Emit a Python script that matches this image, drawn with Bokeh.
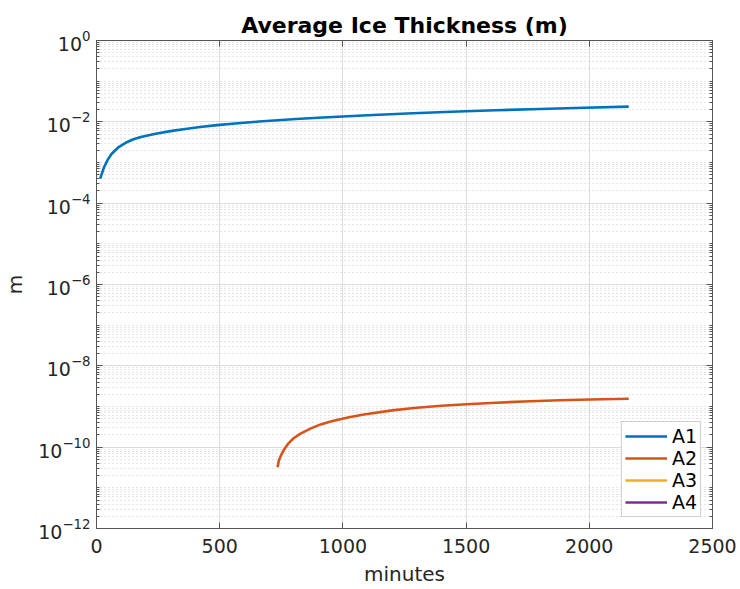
from bokeh.plotting import figure
from bokeh.models import (FixedTicker, LogAxis, LinearAxis, LogTickFormatter,
                          CustomJSTickFormatter, Legend, LegendItem,
                          ColumnDataSource)
from bokeh.embed import file_html
from bokeh.resources import INLINE

# Average ice thickness (m) per region, sampled over time (minutes)
t_a1 = [15, 30, 45, 60, 90, 120, 150, 180, 240, 300, 360, 420, 480, 540,
        600, 660, 720, 810, 900, 1080, 1260, 1440, 1620, 1800, 1980, 2160]
a1 = [4.0e-4, 7.5e-4, 1.15e-3, 1.6e-3, 2.4e-3, 3.1e-3, 3.72e-3, 4.22e-3,
      5.09e-3, 5.9e-3, 6.68e-3, 7.45e-3, 8.18e-3, 8.87e-3, 9.53e-3,
      1.016e-2, 1.079e-2, 1.17e-2, 1.259e-2, 1.435e-2, 1.607e-2, 1.77e-2,
      1.923e-2, 2.07e-2, 2.218e-2, 2.366e-2]

t_a2 = [735, 740, 750, 760, 780, 800, 828, 870, 910, 950, 1020, 1085, 1200,
        1288, 1400, 1502, 1620, 1761, 1880, 2003, 2160]
a2 = [3.2e-11, 4.7e-11, 6.5e-11, 8.5e-11, 1.26e-10, 1.66e-10, 2.15e-10,
      2.9e-10, 3.63e-10, 4.27e-10, 5.37e-10, 6.38e-10, 8.04e-10, 9.16e-10,
      1.04e-9, 1.14e-9, 1.24e-9, 1.35e-9, 1.42e-9, 1.49e-9, 1.55e-9]

t_a3 = [15, 2160]
a3 = [0.0, 0.0]
t_a4 = [15, 2160]
a4 = [0.0, 0.0]

names = ["A1", "A2", "A3", "A4"]
colors = ["#0072BD", "#D95319", "#EDB120", "#7E2F8E"]

y_major = [10.0 ** e for e in range(-12, 1, 2)]
y_minor = [k * 10.0 ** e for e in range(-12, 0) for k in range(1, 10)] + [1.0]
x_major = [0, 500, 1000, 1500, 2000, 2500]

FONT = "DejaVu Sans"
TXT = "#262626"
AX = "#555555"

p = figure(frame_width=616, frame_height=488, y_axis_type="log",
           x_range=(0, 2500), y_range=(1e-12, 1.0),
           output_backend="svg", toolbar_location=None,
           min_border_left=96, min_border_right=28,
           min_border_top=40, min_border_bottom=61,
           background_fill_color="white", border_fill_color="white")

p.title.text = "Average Ice Thickness (m)"
p.title.align = "center"
p.title.text_font = FONT
p.title.text_font_size = "22px"
p.title.text_font_style = "bold"
p.title.text_color = "black"
p.title.standoff = 6

p.outline_line_color = AX
p.outline_line_width = 1

yticker = FixedTicker(ticks=y_major, minor_ticks=y_minor)
xticker = FixedTicker(ticks=x_major, minor_ticks=[])

p.yaxis.ticker = yticker
p.yaxis.formatter = LogTickFormatter()
p.xaxis.ticker = xticker

for ax in (p.xaxis[0], p.yaxis[0]):
    ax.axis_line_color = AX
    ax.major_tick_line_color = AX
    ax.minor_tick_line_color = AX
    ax.major_tick_in = 6
    ax.major_tick_out = 0
    ax.minor_tick_in = 3
    ax.minor_tick_out = 0
    ax.major_label_text_font = FONT
    ax.major_label_text_font_size = "19px"
    ax.major_label_text_color = TXT
    ax.axis_label_text_font = FONT
    ax.axis_label_text_font_size = "20px"
    ax.axis_label_text_font_style = "normal"
    ax.axis_label_text_color = TXT

p.xaxis.axis_label = "minutes"
p.yaxis.axis_label = "m"
p.xaxis.minor_tick_line_color = None
p.xaxis.major_label_standoff = 10
p.xaxis.axis_label_standoff = 6
p.yaxis.major_label_standoff = 6
p.yaxis.axis_label_standoff = 8

# box ticks on the top and right edges, without labels
blank = CustomJSTickFormatter(code="return ''")
top = LinearAxis(ticker=xticker, formatter=blank,
                 axis_line_color=AX, major_tick_line_color=AX,
                 major_tick_in=6, major_tick_out=0, minor_tick_line_color=None,
                 major_label_standoff=0)
right = LogAxis(ticker=yticker, formatter=blank,
                axis_line_color=AX, major_tick_line_color=AX,
                minor_tick_line_color=AX, major_tick_in=6, major_tick_out=0,
                minor_tick_in=3, minor_tick_out=0, major_label_standoff=0)
p.add_layout(top, "above")
p.add_layout(right, "right")

# grids
p.xgrid.ticker = xticker
p.ygrid.ticker = yticker
p.xgrid.grid_line_color = "#dcdcdc"
p.ygrid.grid_line_color = "#dcdcdc"
p.ygrid.minor_grid_line_color = "#cccccc"
p.ygrid.minor_grid_line_dash = "1 3"
p.ygrid.minor_grid_line_width = 1

series = [(t_a1, a1), (t_a2, a2), (t_a3, a3), (t_a4, a4)]
items = []
for name, color, (tt, yy) in zip(names, colors, series):
    # zero thickness has no place on a log axis: keep it as a gap
    yv = [v if v > 0 else float("nan") for v in yy]
    src = ColumnDataSource(dict(t=tt, y=yv))
    r = p.line("t", "y", source=src, line_color=color, line_width=2.6)
    items.append(LegendItem(label=name, renderers=[r]))

legend = Legend(items=items, location="bottom_right",
                label_text_font=FONT, label_text_font_size="19px",
                label_text_color="black", glyph_width=42, glyph_height=20,
                label_height=20, label_standoff=5, spacing=0,
                padding=3, margin=11,
                border_line_color="#a0a0a0", border_line_width=1,
                background_fill_color="white", background_fill_alpha=1.0)
p.add_layout(legend)

open("out.html", "w").write(file_html(p, INLINE))
